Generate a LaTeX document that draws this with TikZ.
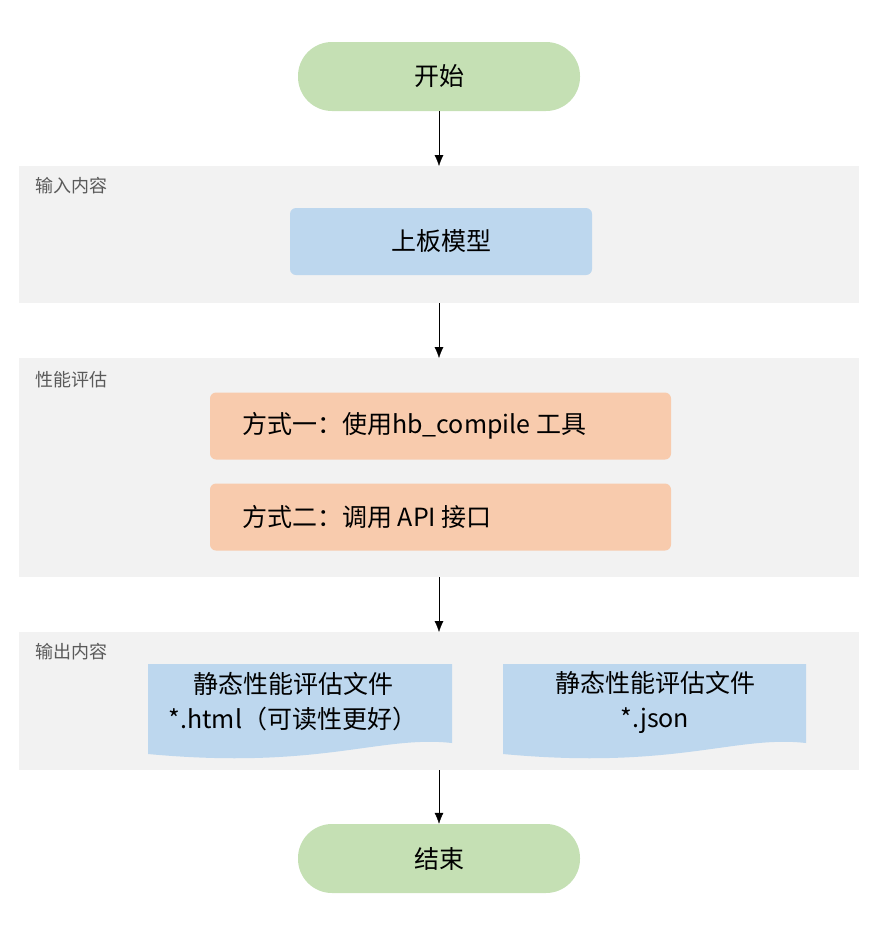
\documentclass[tikz,border=0pt]{standalone}
\usepackage{fontspec}
\usetikzlibrary{arrows.meta}
\newfontfamily\cjk{Noto Sans CJK SC}
\begin{document}
\begin{tikzpicture}[x=1pt,y=-1pt,font=\cjk,
 term/.style={fill={rgb,255:red,197;green,224;blue,180},rounded corners=34pt,minimum width=282pt,minimum height=69pt,inner sep=0pt,font=\cjk\fontsize{25}{30}\selectfont},
 grp/.style={fill={rgb,255:red,242;green,242;blue,242}},
 glabel/.style={anchor=west,inner sep=0pt,text={rgb,255:red,90;green,90;blue,90},font=\cjk\fontsize{18}{22}\selectfont},
 box/.style={rounded corners=6pt,minimum height=67pt,inner sep=0pt},
 txt/.style={inner sep=0pt,font=\cjk\fontsize{25}{35}\selectfont},
 arr/.style={-{Latex[length=11pt,width=9pt]}}]
\useasboundingbox (0,0) rectangle (881,938);
\definecolor{bl}{RGB}{189,215,238}
\definecolor{og}{RGB}{248,203,173}
\fill[grp] (19,166) rectangle (859,303);
\fill[grp] (19,358) rectangle (859,577);
\fill[grp] (19,632) rectangle (859,770);
\node[glabel] (l1) at (35,186) {输入内容};
\node[glabel] (l2) at (35,380) {性能评估};
\node[glabel] (l3) at (35,652) {输出内容};
\node[term] (s) at (439,76.5) {开始};
\node[box,fill=bl,minimum width=302pt,txt] (m) at (441,241.5) {上板模型};
\node[box,fill=og,minimum width=461pt] (a1) at (440.5,426) {};
\node[txt,anchor=west] at (242,426) {方式一：使用hb\_compile 工具};
\node[box,fill=og,minimum width=461pt] (a2) at (440.5,517) {};
\node[txt,anchor=west] at (242,517) {方式二：调用 API 接口};
\fill[bl] (148,664) -- (452,664) -- (452,743) .. controls (380,735) and (320,770) .. (148,754) -- cycle;
\fill[bl] (503,664) -- (806,664) -- (806,743) .. controls (735,735) and (675,770) .. (503,754) -- cycle;
\node[txt,align=center] (d1) at (293,702) {静态性能评估文件\\*.html（可读性更好）};
\node[txt,align=center] (d2) at (655,702) {静态性能评估文件\\*.json};
\node[term] (e) at (439,858.5) {结束};
\coordinate (g1t) at (439,166); \coordinate (g1b) at (439,303);
\coordinate (g2t) at (439,358); \coordinate (g2b) at (439,577);
\coordinate (g3t) at (439,632); \coordinate (g3b) at (439,770);
\draw[arr] (s) -- (g1t);
\draw[arr] (g1b) -- (g2t);
\draw[arr] (g2b) -- (g3t);
\draw[arr] (g3b) -- (e);
\end{tikzpicture}
\end{document}
